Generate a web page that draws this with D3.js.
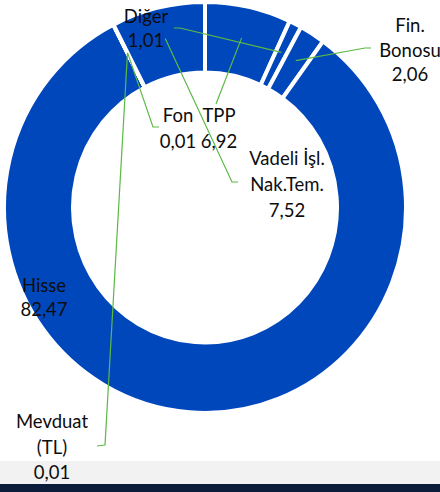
<!DOCTYPE html>
<html>
<head>
<meta charset="utf-8">
<script src="https://cdn.jsdelivr.net/npm/d3@7"></script>
<style>
  html, body { margin: 0; padding: 0; background: #fff; }
  svg { display: block; }
  text { font-family: Lato, "Open Sans", sans-serif; font-size: 18.5px; fill: #0d0d0d; }
</style>
</head>
<body>
<div id="chart"></div>
<script>
// Data
const categories = ["TPP", "Diğer", "Fin.\nBonosu", "Hisse", "Mevduat\n(TL)", "Fon", "Vadeli İşl.\nNak.Tem."];
const values = [6.92, 1.01, 2.06, 82.47, 0.01, 0.01, 7.52];

// label placement: center x, first baseline, leader elbow + end
const labelLayout = [
    { x: 219, y: 122, lh: 26, elbow: [216, 104], end: [216, 104] },
    { x: 146, y: 23, lh: 24, elbow: [180, 28], end: [174, 28] },
    { x: 410, y: 32, lh: 24.5, elbow: [365, 48], end: [371, 48] },
    { x: 44, y: 292, lh: 24, elbow: null, end: null },
    { x: 52, y: 428, lh: 25.5, elbow: [105, 445], end: [97, 446] },
    { x: 178, y: 122, lh: 26, elbow: [153, 127], end: [159, 127] },
    { x: 287, y: 165, lh: 26, elbow: [232, 182], end: [238, 182] }
];

const width = 440, height = 492;
const cx = 205, cy = 207.5, sy = 1.022;
const outerR = 201, innerR = 132;
const lineR = 170;
const fmt = d3.formatLocale({ decimal: ",", thousands: ".", grouping: [3], currency: ["", ""] }).format(".2f");

const svg = d3.select("#chart")
    .append("svg")
    .attr("width", width)
    .attr("height", height);

// bottom bands
svg.append("rect").attr("x", 0).attr("y", 461).attr("width", width).attr("height", 23).attr("fill", "#f2f2f2");
svg.append("rect").attr("x", 0).attr("y", 484).attr("width", width).attr("height", 8).attr("fill", "#0b1d3b");

const pie = d3.pie().sort(null).value(d => d);
const arcs = pie(values);
const arc = d3.arc().innerRadius(innerR).outerRadius(outerR);
const lineArc = d3.arc().innerRadius(lineR).outerRadius(lineR);

svg.append("g")
    .attr("transform", `translate(${cx},${cy}) scale(1,${sy})`)
    .selectAll("path")
    .data(arcs)
    .join("path")
    .attr("d", arc)
    .attr("fill", "#0047bb")
    .attr("stroke", "#fff")
    .attr("stroke-width", 4);

// leader lines
arcs.forEach((a, i) => {
    const l = labelLayout[i];
    if (!l.elbow) return;
    const c = lineArc.centroid(a);
    const pts = [[cx + c[0], cy + c[1] * sy], l.elbow, l.end];
    svg.append("path")
        .attr("d", d3.line()(pts))
        .attr("fill", "none")
        .attr("stroke", "#5cb946")
        .attr("stroke-width", 1.2);
});

// labels
arcs.forEach((a, i) => {
    const l = labelLayout[i];
    const lines = categories[i].split("\n").concat([fmt(values[i])]);
    const t = svg.append("text")
        .attr("text-anchor", "middle")
        .attr("x", l.x)
        .attr("y", l.y);
    lines.forEach((s, j) => {
        t.append("tspan")
            .attr("x", l.x)
            .attr("dy", j === 0 ? 0 : l.lh)
            .text(s);
    });
});
</script>
</body>
</html>
